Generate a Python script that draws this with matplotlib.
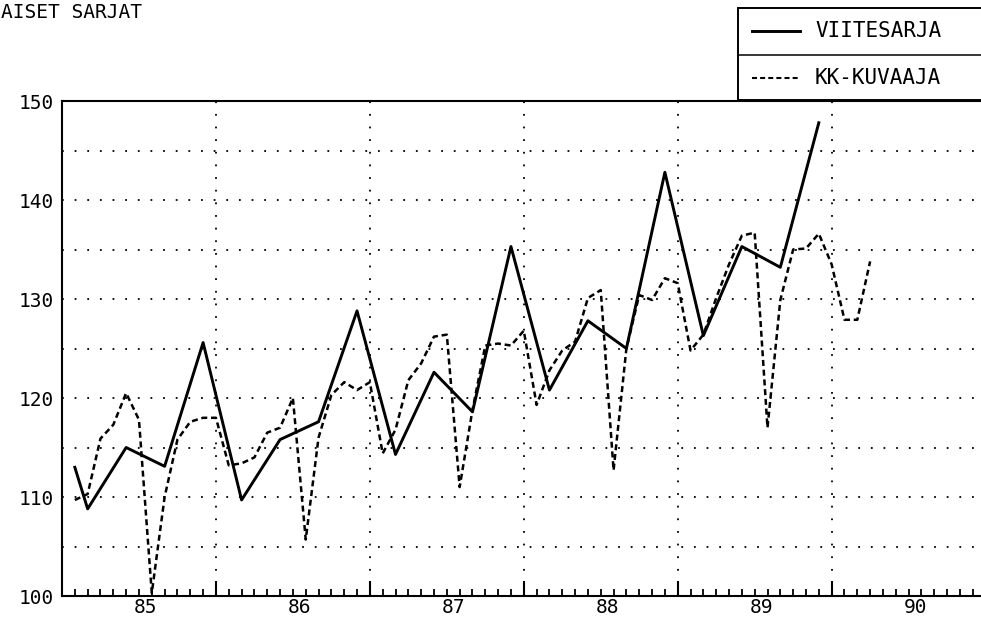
import matplotlib.pyplot as plt
from matplotlib.lines import Line2D
from matplotlib.patches import Rectangle

# month index: 0 = start of 1985
YEARS = ['85', '86', '87', '88', '89', '90']

REF_MONTHS = [1, 2, 5, 8, 11, 14, 17, 20, 23, 26, 29, 32, 35, 38, 41, 44, 47, 50, 53, 56, 59]
REF_VALUES = [113.0, 108.8, 115.0, 113.1, 125.6, 109.7, 115.8, 117.6, 128.8, 114.3, 122.6,
              118.6, 135.3, 120.8, 127.8, 125.0, 142.8, 126.3, 135.3, 133.2, 147.8]

KK_MONTHS = list(range(1, 64))
KK_VALUES = [109.7, 110.3, 115.9, 117.3, 120.5, 117.8, 100.3, 110.0, 115.8, 117.6, 118.0, 118.0,
             113.2, 113.4, 114.0, 116.5, 117.0, 120.0, 105.7, 116.0, 120.3, 121.6, 120.8, 121.6,
             114.4, 116.8, 121.8, 123.5, 126.2, 126.4, 111.0, 118.8, 125.3, 125.5, 125.3, 126.8,
             119.3, 122.8, 124.8, 125.7, 130.1, 130.9, 112.7, 125.0, 130.4, 129.9, 132.1, 131.6,
             124.8, 126.4, 130.1, 133.5, 136.4, 136.7, 117.0, 129.9, 135.0, 135.1, 136.6, 133.5,
             127.9, 127.9, 133.8]

W, H = 981, 617
FONT = 'DejaVu Sans Mono'
DOTS = (0, (1, 6))
DASH = (0, (2.4, 1.5))


def fx(x):
    return x / W


def fy(y):
    return 1 - y / H


fig = plt.figure(figsize=(W / 100, H / 100), dpi=100)
ax = fig.add_axes([fx(62), fy(596), (983 - 62) / W, (596 - 101) / H])
ax.set_xlim(0, 71.8)
ax.set_ylim(100, 150)

# dotted grid
for v in range(105, 150, 5):
    ax.axhline(v, color='black', lw=1.3, linestyle=DOTS, zorder=1)
for m in range(12, 72, 12):
    ax.axvline(m, color='black', lw=1.3, linestyle=DOTS, zorder=1)

ax.plot(REF_MONTHS, REF_VALUES, color='black', lw=2.1, zorder=3)
ax.plot(KK_MONTHS, KK_VALUES, color='black', lw=1.8, linestyle=DASH, zorder=3)

for s in ['left', 'top', 'bottom']:
    ax.spines[s].set_linewidth(1.5)
ax.spines['right'].set_visible(False)

ax.set_yticks(range(100, 151, 10))
ax.set_yticklabels([str(v) for v in range(100, 151, 10)], fontsize=14, family=FONT)
ax.tick_params(axis='y', length=0, pad=6)

ax.set_xticks(range(12, 72, 12))
ax.set_xticks(range(0, 72), minor=True)
ax.set_xticklabels([])
ax.tick_params(axis='x', which='major', direction='in', length=11, width=1.5)
ax.tick_params(axis='x', which='minor', direction='in', length=5, width=1.3)
for k, yr in enumerate(YEARS):
    ax.text(6.5 + 12 * k, -0.005, yr, transform=ax.get_xaxis_transform(),
            ha='center', va='top', fontsize=14, family=FONT)

fig.text(fx(1), fy(13), 'AISET SARJAT', ha='left', va='center', fontsize=14, family=FONT)

# legend box
fig.add_artist(Rectangle((fx(738), fy(100)), (990 - 738) / W, 92 / H, transform=fig.transFigure,
                         fill=False, edgecolor='black', lw=1.4))
fig.add_artist(Line2D([fx(738), fx(990)], [fy(55), fy(55)], transform=fig.transFigure,
                      color='black', lw=1.1))
fig.add_artist(Line2D([fx(752), fx(800)], [fy(31), fy(31)], transform=fig.transFigure,
                      color='black', lw=2.1))
fig.add_artist(Line2D([fx(752), fx(800)], [fy(78), fy(78)], transform=fig.transFigure,
                      color='black', lw=1.5, linestyle=DASH))
fig.text(fx(815), fy(31), 'VIITESARJA', ha='left', va='center', fontsize=15, family=FONT)
fig.text(fx(815), fy(78), 'KK-KUVAAJA', ha='left', va='center', fontsize=15, family=FONT)

fig.savefig('out.png', dpi=100)
